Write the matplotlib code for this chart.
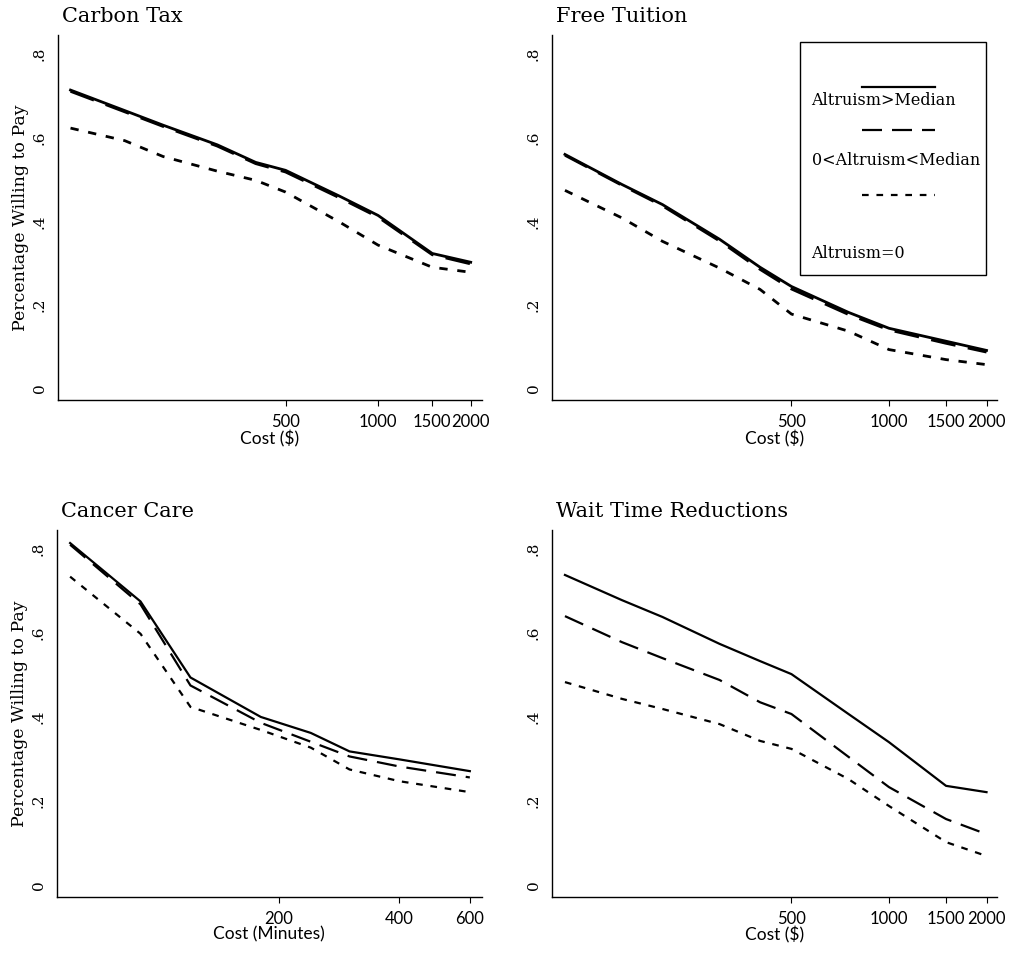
import numpy as np
import matplotlib
matplotlib.use('Agg')
import matplotlib.pyplot as plt
from matplotlib.patches import Rectangle

# Cost levels (log scale on x)
cost_usd = [100, 150, 200, 300, 400, 500, 750, 1000, 1500, 2000]
cost_min = [60, 90, 120, 180, 240, 300, 400, 600]

# Carbon Tax
carbon_high = [0.714, 0.665, 0.630, 0.583, 0.541, 0.522, 0.460, 0.414, 0.323, 0.302]
carbon_mid = [0.711, 0.662, 0.627, 0.580, 0.538, 0.518, 0.456, 0.410, 0.320, 0.298]
carbon_zero = [0.623, 0.593, 0.555, 0.520, 0.498, 0.470, 0.398, 0.343, 0.290, 0.278]

# Free Tuition
tuition_high = [0.560, 0.488, 0.440, 0.357, 0.290, 0.244, 0.182, 0.144, 0.113, 0.091]
tuition_mid = [0.558, 0.486, 0.437, 0.353, 0.285, 0.238, 0.177, 0.140, 0.108, 0.087]
tuition_zero = [0.474, 0.408, 0.352, 0.288, 0.237, 0.178, 0.137, 0.093, 0.069, 0.057]

# Cancer Care
cancer_high = [0.814, 0.675, 0.494, 0.400, 0.362, 0.318, 0.299, 0.271]
cancer_mid = [0.810, 0.668, 0.475, 0.386, 0.341, 0.306, 0.282, 0.256]
cancer_zero = [0.734, 0.598, 0.424, 0.369, 0.327, 0.275, 0.247, 0.221]

# Wait Time Reductions
wait_high = [0.738, 0.678, 0.638, 0.574, 0.533, 0.502, 0.407, 0.340, 0.236, 0.221]
wait_mid = [0.640, 0.578, 0.540, 0.488, 0.435, 0.407, 0.305, 0.233, 0.157, 0.121]
wait_zero = [0.483, 0.443, 0.419, 0.383, 0.343, 0.324, 0.252, 0.188, 0.102, 0.069]

legend_labels = ['Altruism>Median', '0<Altruism<Median', 'Altruism=0']
y_ticks = [0, 0.2, 0.4, 0.6, 0.8]
y_ticklabels = ['0', '.2', '.4', '.6', '.8']

SERIF = 'DejaVu Serif'
SANS = 'Lato'

styles = [dict(ls='-'), dict(dashes=(9, 4.5)), dict(dashes=(3, 3.5))]


def draw_panel(ax, x, series, title, xticks, xlabel, xlim, ylabel=True, lw=1.6):
    for y, st in zip(series, styles):
        ax.plot(x, y, color='black', lw=lw, **st)
    ax.set_xscale('log')
    ax.set_xlim(*xlim)
    ax.set_ylim(-0.028, 0.845)
    ax.xaxis.set_minor_locator(matplotlib.ticker.NullLocator())
    ax.set_xticks(xticks)
    ax.set_xticklabels([str(t) for t in xticks], fontfamily=SANS, fontsize=12)
    ax.set_yticks(y_ticks)
    ax.set_yticklabels(y_ticklabels, rotation=90, va='center', fontfamily=SERIF, fontsize=11)
    ax.tick_params(axis='y', length=0, pad=8)
    ax.tick_params(axis='x', length=4, width=0.8, pad=6)
    for s in ['top', 'right']:
        ax.spines[s].set_visible(False)
    ax.spines['left'].set_linewidth(1.0)
    ax.spines['bottom'].set_linewidth(1.0)
    ax.set_xlabel(xlabel, fontfamily=SANS, fontsize=12.5, labelpad=0)
    if ylabel:
        ax.set_ylabel('Percentage Willing to Pay', fontfamily=SERIF, fontsize=12.5, labelpad=3)
    ax.text(0.01, 1.025, title, transform=ax.transAxes, fontfamily=SERIF,
            fontsize=15, ha='left', va='bottom')


fig = plt.figure(figsize=(10.16, 9.55), dpi=100)
ax1 = fig.add_axes([0.057, 0.581, 0.417, 0.382])
ax2 = fig.add_axes([0.543, 0.581, 0.438, 0.382])
ax3 = fig.add_axes([0.056, 0.061, 0.418, 0.384])
ax4 = fig.add_axes([0.543, 0.061, 0.438, 0.384])

usd_ticks = [500, 1000, 1500, 2000]
draw_panel(ax1, cost_usd, [carbon_high, carbon_mid, carbon_zero], 'Carbon Tax',
           usd_ticks, 'Cost ($)', (91, 2170), lw=2.0)
draw_panel(ax2, cost_usd, [tuition_high, tuition_mid, tuition_zero], 'Free Tuition',
           usd_ticks, 'Cost ($)', (91, 2150), ylabel=False, lw=2.0)
draw_panel(ax3, cost_min, [cancer_high, cancer_mid, cancer_zero], 'Cancer Care',
           [200, 400, 600], 'Cost (Minutes)', (55.6, 642))
draw_panel(ax4, cost_usd, [wait_high, wait_mid, wait_zero], 'Wait Time Reductions',
           usd_ticks, 'Cost ($)', (91, 2150), ylabel=False)

# stacked legend box (symbol above label) in Free Tuition panel
ax2.add_patch(Rectangle((0.557, 0.342), 0.418, 0.639, transform=ax2.transAxes,
                        fill=False, ec='black', lw=1.0, clip_on=False))
line_y = [0.858, 0.740, 0.562]
text_y = [0.822, 0.658, 0.403]
for st, ly, ty, lab in zip(styles, line_y, text_y, legend_labels):
    ax2.plot([0.697, 0.861], [ly, ly], transform=ax2.transAxes, color='black',
             lw=1.6, clip_on=False, **st)
    ax2.text(0.584, ty, lab, transform=ax2.transAxes, fontfamily=SERIF,
             fontsize=11.5, ha='left', va='center')

fig.savefig('out.png', dpi=100)
